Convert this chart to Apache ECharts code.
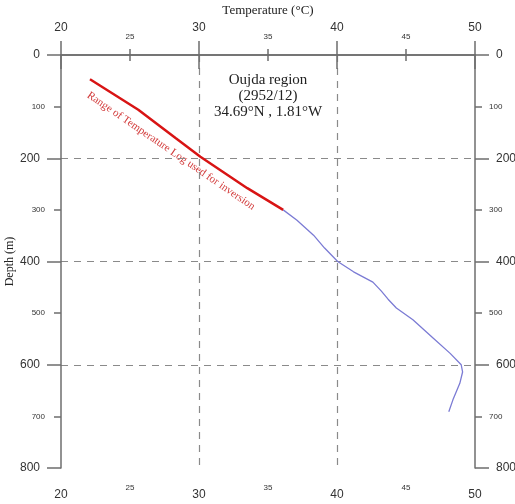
<!DOCTYPE html>
<html>
<head>
<meta charset="utf-8">
<title>Oujda region temperature log</title>
<script src="https://cdn.jsdelivr.net/npm/echarts@6/dist/echarts.min.js"></script>
<style>
  html, body { margin: 0; padding: 0; background: #fff; }
  #LineChart { width: 515px; height: 504px; }
</style>
</head>
<body>
<div id="LineChart"></div>
<script>
// temperature (°C) / depth (m)
var logTemp = [22.1, 25.6, 28.3, 30.1, 33.5, 36.1];
var logDepth = [47, 106, 161, 197, 258, 300];

var profTemp = [36.1, 37.1, 38.3, 39.1, 40.05, 41.2, 42.6, 43.2, 43.7, 44.3, 45.5, 47.0, 48.2, 49.0, 49.1, 48.9, 48.4, 48.1];
var profDepth = [300, 320, 349, 374, 400, 420, 440, 457, 473, 490, 513, 549, 578, 600, 614, 636, 668, 691];

var tempTicks = [20, 25, 30, 35, 40, 45, 50];
var depthTicks = [0, 100, 200, 300, 400, 500, 600, 700, 800];

var regionLines = ['Oujda region', '(2952/12)', '34.69°N , 1.81°W'];
var logLabel = 'Range of Temperature Log used for inversion';

function pairs (xs, ys) {
  var out = [];
  for (var i = 0; i < xs.length; i++) out.push([xs[i], ys[i]]);
  return out;
}

var axisColor = '#6e6e6e';
var sans = 'Liberation Sans';
var serif = 'Liberation Serif';

var gridDash = {
  show: true, showMinLine: false, showMaxLine: false,
  lineStyle: { color: '#8a8a8a', width: 1.2, type: [7, 6] }
};

// major axis: every 10 °C / 200 m, long ticks, big labels
function xMajor (pos, withName) {
  var ax = {
    type: 'value', position: pos, min: tempTicks[0], max: tempTicks[tempTicks.length - 1], interval: 10,
    axisLine: { show: true, lineStyle: { color: axisColor, width: 1.5 } },
    axisTick: { show: true, length: 14, lineStyle: { color: axisColor, width: 1.5 } },
    axisLabel: { color: '#333', fontFamily: sans, fontSize: 12, margin: 21 },
    splitLine: { show: false }
  };
  if (withName) {
    ax.name = 'Temperature (°C)';
    ax.nameLocation = 'middle';
    ax.nameGap = 38;
    ax.nameTextStyle = { color: '#222', fontFamily: serif, fontSize: 13 };
    ax.splitLine = gridDash;
  }
  return ax;
}
// minor axis: every 5, short ticks, small labels only in between
function xMinor (pos, margin) {
  return {
    type: 'value', position: pos, min: tempTicks[0], max: tempTicks[tempTicks.length - 1], interval: 5,
    axisLine: { show: false },
    axisTick: { show: true, length: 6, lineStyle: { color: axisColor, width: 1.5 } },
    axisLabel: {
      color: '#333', fontFamily: sans, fontSize: 8, margin: margin,
      formatter: function (v) { return v % 10 === 0 ? '' : String(v); }
    },
    splitLine: { show: false }
  };
}
function yMajor (pos, withName) {
  var ax = {
    type: 'value', position: pos, inverse: true, min: depthTicks[0], max: depthTicks[depthTicks.length - 1], interval: 200,
    axisLine: { show: true, lineStyle: { color: axisColor, width: 1.5 } },
    axisTick: { show: true, length: 14, lineStyle: { color: axisColor, width: 1.5 } },
    axisLabel: { color: '#333', fontFamily: sans, fontSize: 12, margin: 21 },
    splitLine: { show: false }
  };
  if (withName) {
    ax.name = 'Depth (m)';
    ax.nameLocation = 'middle';
    ax.nameGap = 45;
    ax.nameMoveOverlap = false;
    ax.nameTextStyle = { color: '#222', fontFamily: serif, fontSize: 12 };
    ax.splitLine = gridDash;
  }
  return ax;
}
function yMinor (pos, margin) {
  return {
    type: 'value', position: pos, inverse: true, min: depthTicks[0], max: depthTicks[depthTicks.length - 1], interval: 100,
    axisLine: { show: false },
    axisTick: { show: true, length: 7, lineStyle: { color: axisColor, width: 1.5 } },
    axisLabel: {
      color: '#333', fontFamily: sans, fontSize: 8, margin: margin,
      formatter: function (v) { return v % 200 === 0 ? '' : String(v); }
    },
    splitLine: { show: false }
  };
}

var myChart = echarts.init(document.getElementById('LineChart'));

var option;
option = {
  animation: false,
  grid: { left: 61, right: 40, top: 55, bottom: 36, containLabel: false, outerBoundsMode: 'none' },
  xAxis: [
    xMajor('top', true),
    xMinor('top', 14),
    xMajor('bottom', false),
    xMinor('bottom', 16)
  ],
  yAxis: [
    yMajor('left', true),
    yMinor('left', 16),
    yMajor('right', false),
    yMinor('right', 14)
  ],
  graphic: [
    {
      type: 'text', x: 268, y: 72,
      style: {
        text: regionLines.join('\n'), fill: '#222', font: '15px "Liberation Serif"',
        textAlign: 'center', lineHeight: 16
      }
    },
    {
      type: 'text', x: 171, y: 151, rotation: -0.60,
      style: {
        text: logLabel, fill: '#d23a3a', font: '11px "Liberation Serif"',
        textAlign: 'center', textVerticalAlign: 'middle'
      }
    }
  ],
  series: [
    {
      type: 'line', xAxisIndex: 0, yAxisIndex: 0,
      data: pairs(profTemp, profDepth),
      showSymbol: false,
      lineStyle: { color: '#7b7bd4', width: 1.3 },
      z: 3
    },
    {
      type: 'line', xAxisIndex: 0, yAxisIndex: 0,
      data: pairs(logTemp, logDepth),
      showSymbol: false,
      lineStyle: { color: '#d81414', width: 2.5 },
      z: 4
    }
  ]
};

option && myChart.setOption(option);
</script>
</body>
</html>
